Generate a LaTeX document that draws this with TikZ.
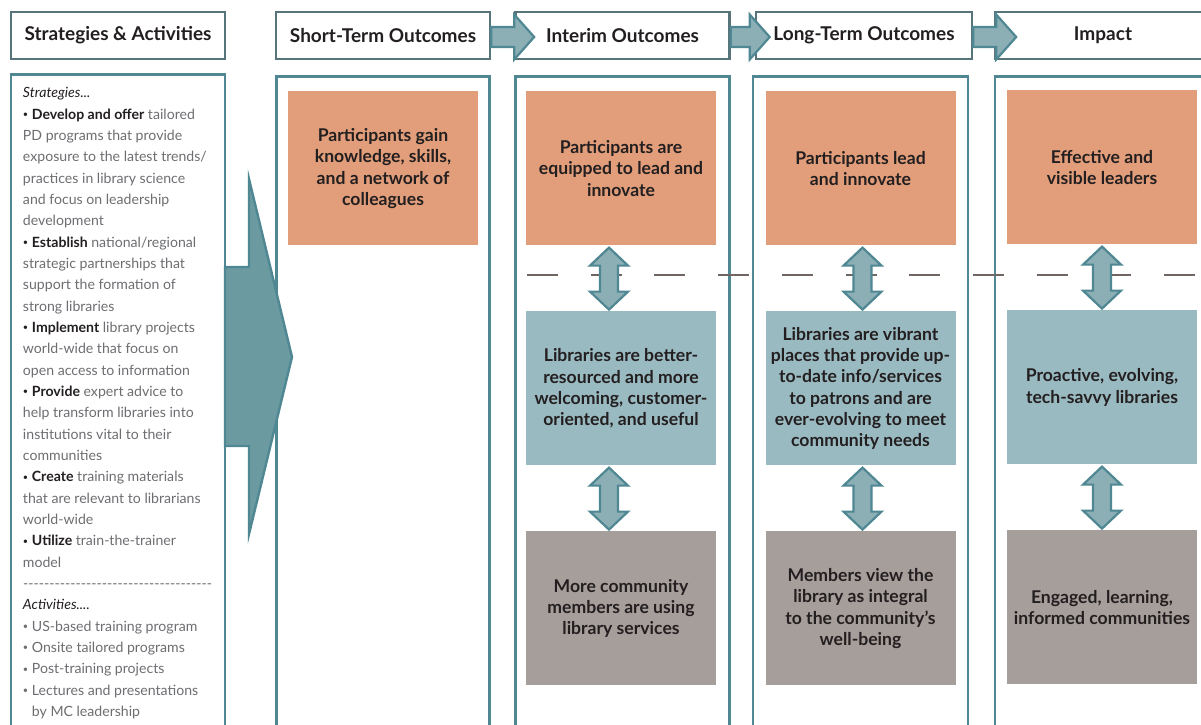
\documentclass[tikz,border=0pt]{standalone}
\usepackage{fontspec}
\setmainfont{Lato}
\usetikzlibrary{shapes,calc}
\definecolor{headGray}{HTML}{56747A}
\definecolor{frameTeal}{HTML}{4F8792}
\definecolor{inkDark}{HTML}{231F20}
\definecolor{inkGray}{HTML}{6D6E71}
\definecolor{leaderOrange}{HTML}{E29E7A}
\definecolor{libraryBlue}{HTML}{9ABAC1}
\definecolor{communityGray}{HTML}{A69E9A}
\definecolor{arrowFill}{HTML}{8CAFB6}
\definecolor{bigArrowFill}{HTML}{6C9AA1}
\definecolor{dividerGray}{HTML}{6F6561}
\tikzstyle{header} = [rectangle, draw=headGray, line width=2.4pt, fill=white, minimum width=214pt, minimum height=47pt, text=inkDark, font=\fontsize{19}{23}\selectfont\bfseries]
\tikzstyle{column} = [rectangle, draw=frameTeal, line width=2.4pt, fill=white, minimum height=700pt, anchor=north]
\tikzstyle{outcome} = [rectangle, minimum width=190pt, minimum height=154pt, align=center, text=inkDark, font=\fontsize{17.6}{21.3}\selectfont\bfseries, inner sep=2pt]
\tikzstyle{leaderBox} = [outcome, fill=leaderOrange]
\tikzstyle{libraryBox} = [outcome, fill=libraryBlue]
\tikzstyle{communityBox} = [outcome, fill=communityGray]
\tikzstyle{stratText} = [align=left, inner sep=0pt, text=inkGray, font=\fontsize{14.1}{21.34}\selectfont]
\tikzstyle{stepArrow} = [draw=frameTeal, fill=arrowFill, line width=2.2pt, line join=miter]
\tikzstyle{linkArrow} = [draw=frameTeal, fill=arrowFill, line width=2.2pt, line join=miter]
\tikzstyle{bigArrow} = [draw=frameTeal, fill=bigArrowFill, line width=2.4pt, line join=miter]
\tikzstyle{divider} = [draw=dividerGray, line width=2.4pt, dash pattern=on 31pt off 32.7pt]
\newcommand{\dotmark}{\raisebox{0.25ex}{\scalebox{0.65}{\textbullet}}}
\newcommand{\act}[1]{{\color{inkDark}\dotmark\ \textbf{#1}}}
% header arrow, starting at the east side of a header (#2 = shaft length)
\newcommand{\steparrow}[2]{\draw[stepArrow]($(#1.east)+(0,-11.5)$)--++(#2,0)--++(0,-12.5)--++(20,22.5)--++(-20,22.5)--++(0,-12.5)--++(-#2,0)--cycle;}
% double arrow, tip at the bottom of the upper block
\newcommand{\linkarrow}[3]{\draw[linkArrow]($(#1.south)+(#3,-2)$)--++(19,-18)--++(-10,0)--++(0,-26)--++(10,0)--++(-19,-18)--++(-19,18)--++(10,0)--++(0,26)--++(-10,0)--cycle;}
\begin{document}
\begin{tikzpicture}[x=1pt, y=1pt, node distance=220pt]
		\useasboundingbox (0,0) rectangle (1201,-724);
		\clip (0,0) rectangle (1201,-724);
		%headers
		\node[header](hsa) at (118,-35.5){Strategies \& Activities};
		\node[header, right of=hsa, xshift=45pt](hst){Short-Term Outcomes};
		\node[header, right of=hst, xshift=19.5pt](hit){Interim Outcomes};
		\node[header, right of=hit, xshift=21.5pt, minimum width=216pt](hlt){Long-Term Outcomes};
		\node[header, right of=hlt, xshift=19pt, minimum width=216pt](him){Impact};
		
		%columns
		\node[column, minimum width=214pt](csa) at ($(hsa.south)+(0,-13)$){};
		\node[column, minimum width=213pt](cst) at ($(hst.south)+(0,-15)$){};
		\node[column, minimum width=214pt](cit) at ($(hit.south)+(0,-15)$){};
		\node[column, minimum width=215pt](clt) at ($(hlt.south)+(-3.5,-15)$){};
		\node[column, minimum width=216pt](cim) at ($(him.south)+(0,-15)$){};
		
		%strategies and activities
		\node[stratText, anchor=north west](stxt) at ($(csa.north west)+(13,-14)$){%
			{\color{inkDark}\textit{Strategies...}}\\
			\act{Develop and offer} tailored\\
			PD programs that provide\\
			exposure to the latest trends/\\
			practices in library science\\
			and focus on leadership\\
			development\\
			\act{Establish} national/regional\\
			strategic partnerships that\\
			support the formation of\\
			strong libraries\\
			\act{Implement} library projects\\
			world-wide that focus on\\
			open access to information\\
			\act{Provide} expert advice to\\
			help transform libraries into\\
			institutions vital to their\\
			communities\\
			\act{Create} training materials\\
			that are relevant to librarians\\
			world-wide\\
			\act{Utilize} train-the-trainer\\
			model\\
			\hbox to 189pt{\cleaders\hbox{-}\hfill}\\
			{\color{inkDark}\textit{Activities....}}\\
			\dotmark\ US-based training program\\
			\dotmark\ Onsite tailored programs\\
			\dotmark\ Post-training projects\\
			\dotmark\ Lectures and presentations\\
			\phantom{\dotmark\ }by MC leadership};
		
		%outcome blocks
		\node[leaderBox, anchor=north](oS) at ($(cst.north)+(0,-16)$){Participants gain\\knowledge, skills,\\and a network of\\colleagues};
		\node[leaderBox, anchor=north](oI) at ($(cit.north)+(-1.5,-16)$){Participants are\\equipped to lead and\\innovate};
		\node[leaderBox, anchor=north](oL) at ($(clt.north)+(0,-16)$){Participants lead\\and innovate};
		\node[leaderBox, anchor=north](oM) at ($(cim.north)+(-1,-15)$){Effective and\\visible leaders};
		\node[libraryBox, below of=oI](bI){Libraries are better-\\resourced and more\\welcoming, customer-\\oriented, and useful};
		\node[libraryBox, below of=oL](bL){Libraries are vibrant\\places that provide up-\\to-date info/services\\to patrons and are\\ever-evolving to meet\\community needs};
		\node[libraryBox, below of=oM](bM){Proactive, evolving,\\tech-savvy libraries};
		\node[communityBox, below of=bI](gI){More community\\members are using\\library services};
		\node[communityBox, below of=bL](gL){Members view the\\library as integral\\to the community's\\well-being};
		\node[communityBox, below of=bM](gM){Engaged, learning,\\informed communities};
		
		%divider
		\coordinate (divL) at (527,-275);
		\coordinate (divR) at (1215,-275);
		\draw[divider](divL)--(divR);
		
		%arrows
		\steparrow{hst}{23}
		\steparrow{hit}{19}
		\steparrow{hlt}{23}
		\linkarrow{oI}{bI}{-12}
		\linkarrow{bI}{gI}{-12}
		\linkarrow{oL}{bL}{2}
		\linkarrow{bL}{gL}{2}
		\linkarrow{oM}{bM}{0}
		\linkarrow{bM}{gM}{0}
		\draw[bigArrow](225,-267)--(249,-267)--(249,-179)--(292,-357)--(249,-534)--(249,-446)--(225,-446)--cycle;
	\end{tikzpicture}
\end{document}
